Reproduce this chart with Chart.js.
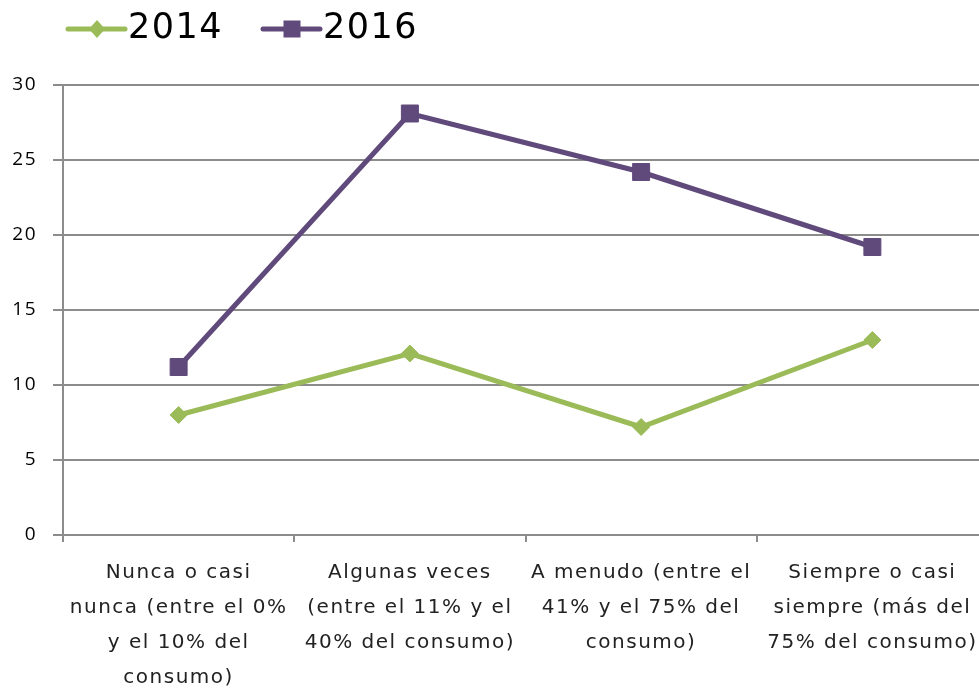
<!DOCTYPE html>
<html>
<head>
<meta charset="utf-8">
<script src="https://cdn.jsdelivr.net/npm/chart.js@4.4.1/dist/chart.umd.min.js"></script>
<style>
  html, body { margin: 0; padding: 0; background: #fff; overflow: hidden; }
  #wrap { width: 979px; height: 691px; overflow: hidden; }
</style>
</head>
<body>
<div id="wrap"><canvas id="grafico" width="1001" height="691"></canvas></div>
<script>
// categorias del eje X (cada una en varias lineas)
const categorias = [
  ['Nunca o casi', 'nunca (entre el 0%', 'y el 10% del', 'consumo)'],
  ['Algunas veces', '(entre el 11% y el', '40% del consumo)'],
  ['A menudo (entre el', '41% y el 75% del', 'consumo)'],
  ['Siempre o casi', 'siempre (más del', '75% del consumo)']
];
const serie2014 = [8.0, 12.1, 7.2, 13.0];
const serie2016 = [11.2, 28.1, 24.2, 19.2];
const ticksY = [0, 5, 10, 15, 20, 25, 30];

const verde = '#9BBB59';
const morado = '#604A7B';
const gris = '#8c8c8c';

// espaciado de letras para parecerse a la fuente original
const espaciado = {
  id: 'espaciado',
  beforeUpdate(chart) { chart.ctx.letterSpacing = '1.5px'; },
  beforeDraw(chart) { chart.ctx.letterSpacing = '1.5px'; }
};

// leyenda con linea + marcador, como en el original
const leyendaLinea = {
  id: 'leyendaLinea',
  afterDraw(chart) {
    const ctx = chart.ctx;
    chart.data.datasets.forEach((ds, i) => {
      const x0 = 68 + i * 195;
      const y = 29;
      ctx.save();
      ctx.strokeStyle = ds.borderColor;
      ctx.lineWidth = 5;
      ctx.lineCap = 'round';
      ctx.beginPath();
      ctx.moveTo(x0, y);
      ctx.lineTo(x0 + 57, y);
      ctx.stroke();
      ctx.fillStyle = ds.borderColor;
      const cx = x0 + 29;
      ctx.beginPath();
      if (ds.pointStyle === 'rectRot') {
        ctx.moveTo(cx - 8, y);
        ctx.lineTo(cx, y - 9);
        ctx.lineTo(cx + 8, y);
        ctx.lineTo(cx, y + 9);
      } else {
        ctx.rect(cx - 8.5, y - 8.5, 17, 17);
      }
      ctx.closePath();
      ctx.fill();
      ctx.fillStyle = '#000';
      ctx.font = '35px "DejaVu Sans"';
      ctx.letterSpacing = '1.5px';
      ctx.textBaseline = 'middle';
      ctx.textAlign = 'left';
      ctx.fillText(ds.label, x0 + 60, y);
      ctx.restore();
    });
  }
};

new Chart(document.getElementById('grafico'), {
  type: 'line',
  data: {
    labels: categorias,
    datasets: [
      {
        label: '2014',
        data: serie2014,
        borderColor: verde,
        backgroundColor: verde,
        borderWidth: 5,
        pointStyle: 'rectRot',
        pointRadius: 8.5,
        pointBorderWidth: 1,
        tension: 0
      },
      {
        label: '2016',
        data: serie2016,
        borderColor: morado,
        backgroundColor: morado,
        borderWidth: 5,
        pointStyle: 'rect',
        pointRadius: 12,
        pointBorderWidth: 1,
        tension: 0
      }
    ]
  },
  options: {
    responsive: false,
    animation: false,
    devicePixelRatio: 1,
    layout: { padding: { top: 85, right: 3, left: 0, bottom: 0 } },
    plugins: {
      legend: { display: false },
      tooltip: { enabled: false }
    },
    scales: {
      x: {
        offset: true,
        afterFit: (s) => { s.height = 156; },
        grid: {
          offset: true,
          drawOnChartArea: false,
          drawTicks: true,
          tickLength: 7,
          color: gris,
          lineWidth: 2
        },
        border: { display: true, color: gris, width: 2 },
        ticks: {
          maxRotation: 0,
          autoSkip: false,
          padding: 13,
          color: '#222',
          font: { family: '"DejaVu Sans"', size: 20, lineHeight: 1.75 }
        }
      },
      y: {
        min: 0,
        max: 30,
        afterFit: (s) => { s.width = 63; },
        afterBuildTicks: (s) => { s.ticks = ticksY.map(v => ({ value: v })); },
        grid: {
          color: gris,
          lineWidth: 2,
          drawTicks: true,
          tickLength: 10
        },
        border: { display: true, color: gris, width: 2 },
        ticks: {
          padding: 16,
          color: '#000',
          font: { family: '"Open Sans"', size: 19 }
        }
      }
    }
  },
  plugins: [espaciado, leyendaLinea]
});
</script>
</body>
</html>
